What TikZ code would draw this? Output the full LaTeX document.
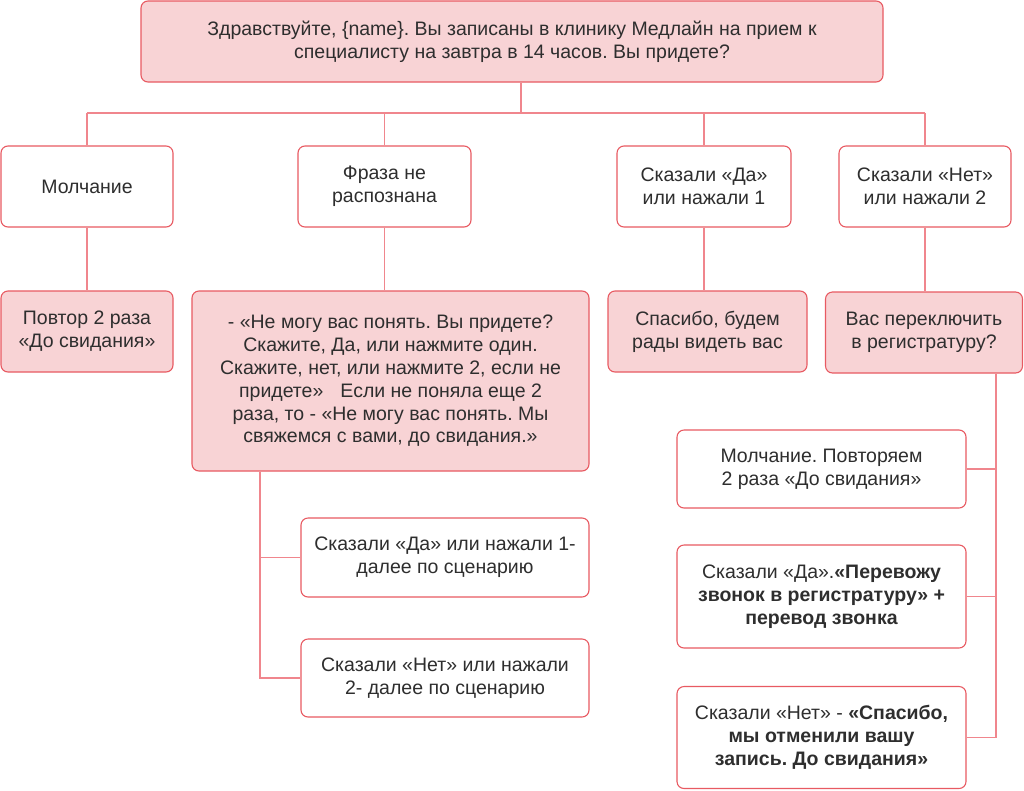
\documentclass[tikz,border=0pt]{standalone}
\usepackage{fontspec}
\setmainfont{Liberation Sans}
\frenchspacing
\definecolor{boxfill}{HTML}{F8D3D5}
\definecolor{boxline}{HTML}{E85A62}
\definecolor{connline}{HTML}{F0868D}
\definecolor{txt}{HTML}{2E2E2E}
\tikzset{
  basebox/.style={draw=boxline, line width=1.1pt, rounded corners=7pt, rectangle,
    inner sep=0pt, align=center, text=txt, font=\fontsize{19.5}{22.8}\selectfont},
  pinkbox/.style={basebox, fill=boxfill},
  whitebox/.style={basebox, fill=white},
  conn/.style={draw=connline, line width=1.1pt}
}
\begin{document}
\begin{tikzpicture}[x=1pt,y=-1pt]
\path[fill=white] (0,0) rectangle (1024,790);
\useasboundingbox (0,0) rectangle (1024,790);

\node[pinkbox, minimum width=742pt, minimum height=81pt] (top) at (512,41.5)
  {Здравствуйте, \{name\}. Вы записаны в клинику Медлайн на прием к\\специалисту на завтра в 14 часов. Вы придете?};

\node[whitebox, minimum width=172pt, minimum height=81pt] (r2a) at (87,186.5) {Молчание};
\node[whitebox, minimum width=173pt, minimum height=81pt] (r2b) at (384.5,186.5) {Фраза не\\распознана};
\node[whitebox, minimum width=174pt, minimum height=81pt] (r2c) at (704,186.5) {Сказали «Да»\\или нажали 1};
\node[whitebox, minimum width=172pt, minimum height=81pt] (r2d) at (925,186.5) {Сказали «Нет»\\или нажали 2};

\node[pinkbox, minimum width=172pt, minimum height=81pt] (r3a) at (87,331.5) {Повтор 2 раза\\«До свидания»};
\node[pinkbox, minimum width=397pt, minimum height=180pt] (r3b) at (390.5,381)
  {- «Не могу вас понять. Вы придете?\\Скажите, Да, или нажмите один.\\Скажите, нет, или нажмите 2, если не\\придете»\hspace{0.6em} Если не поняла еще 2\\раза, то - «Не могу вас понять. Мы\\свяжемся с вами, до свидания.»};
\node[pinkbox, minimum width=199pt, minimum height=81pt] (r3c) at (707.5,331.5) {Спасибо, будем\\рады видеть вас};
\node[pinkbox, minimum width=197pt, minimum height=81pt] (r3d) at (924,332.5) {Вас переключить\\в регистратуру?};

\node[whitebox, minimum width=288pt, minimum height=79pt] (s1) at (445,557.5) {Сказали «Да» или нажали 1-\\далее по сценарию};
\node[whitebox, minimum width=288pt, minimum height=78pt] (s2) at (445,678) {Сказали «Нет» или нажали\\2- далее по сценарию};

\node[whitebox, minimum width=289pt, minimum height=78pt] (t1) at (821.5,469) {Молчание. Повторяем\\2 раза «До свидания»};
\node[whitebox, minimum width=289pt, minimum height=103pt] (t2) at (821.5,596.5)
  {Сказали «Да».\textbf{«Перевожу}\\\textbf{звонок в регистратуру» +}\\\textbf{перевод звонка}};
\node[whitebox, minimum width=289pt, minimum height=102pt] (t3) at (821.5,737.5)
  {Сказали «Нет» - \textbf{«Спасибо,}\\\textbf{мы отменили вашу}\\\textbf{запись. До свидания»}};

\coordinate (bus) at (0,113);
\coordinate (topdrop) at (521,0);
\coordinate (lv) at (260,0);
\coordinate (rv) at (996,0);

\draw[conn] (top.south -| topdrop) -- (topdrop |- bus);
\draw[conn] (r2a.north |- bus) -- (r2d.north |- bus);
\draw[conn] (r2a.north) -- (r2a.north |- bus);
\draw[conn] (r2b.north) -- (r2b.north |- bus);
\draw[conn] (r2c.north) -- (r2c.north |- bus);
\draw[conn] (r2d.north) -- (r2d.north |- bus);

\draw[conn] (r2a.south) -- (r3a.north);
\draw[conn] (r2b.south) -- (r2b.south |- r3b.north);
\draw[conn] (r2c.south) -- (r2c.south |- r3c.north);
\draw[conn] (r2d.south) -- (r2d.south |- r3d.north);

\draw[conn] (r3b.south -| lv) |- (s1.west);
\draw[conn] (r3b.south -| lv) |- (s2.west);

\draw[conn] (r3d.south -| rv) |- (t1.east);
\draw[conn] (r3d.south -| rv) |- (t2.east);
\draw[conn] (r3d.south -| rv) |- (t3.east);
\end{tikzpicture}
\end{document}
